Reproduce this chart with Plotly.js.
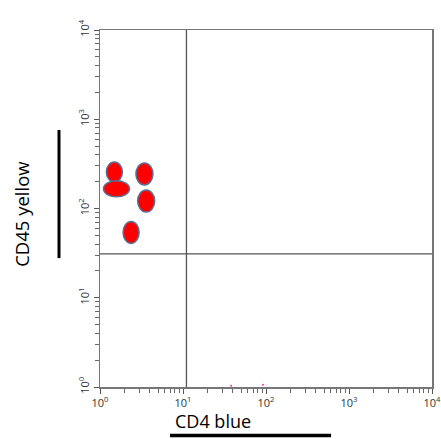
<!DOCTYPE html>
<html><head><meta charset="utf-8">
<script src="https://cdn.plot.ly/plotly-3.0.1.min.js"></script>
<style>html,body{margin:0;padding:0;background:#fff}</style>
</head><body><div id="chart" style="width:441px;height:439px"></div>
<script>
// Data
const cd4Values = [1.49, 1.58, 3.43, 3.6, 2.37];
const cd45Values = [256, 166, 244, 121, 54];
const strayX = [38, 92];
const strayY = [1.03, 1.06];
const gateX = 11;
const gateY = 31;
const tickDefault = ['1', '10', '100', '1000', '10k'];
const tickText = ['10<sup>0</sup>', '10<sup>1</sup>', '10<sup>2</sup>', '10<sup>3</sup>', '10<sup>4</sup>'];
const xTitle = 'CD4 blue';
const yTitle = 'CD45 yellow';

// Style (pixel sizes of each ellipse)
const dotW = [16, 26, 17, 17, 16];
const dotH = [20, 16, 22, 22, 22];

const W = 441, H = 439;
const M = {l:100, r:9, t:30, b:52};
const pxPerDecX = (W - M.l - M.r) / 4;
const pxPerDecY = (H - M.t - M.b) / 4;

const shapes = [];
cd4Values.forEach((x, i) => {
  const y = cd45Values[i];
  const fx = Math.pow(10, dotW[i] / 2 / pxPerDecX);
  const fy = Math.pow(10, dotH[i] / 2 / pxPerDecY);
  shapes.push({type:'circle', xref:'x', yref:'y',
    x0:x / fx, x1:x * fx, y0:y / fy, y1:y * fy,
    fillcolor:'#ff0000', line:{color:'#5a6f96', width:1.5}, layer:'above'});
});
// gate lines
shapes.push({type:'line', xref:'x', yref:'paper', x0:gateX, x1:gateX, y0:0, y1:1, line:{color:'#555', width:1.3}});
shapes.push({type:'line', xref:'paper', yref:'y', x0:0, x1:1, y0:gateY, y1:gateY, line:{color:'#555', width:1.3}});
// decorative black bars
shapes.push({type:'line', xref:'paper', yref:'paper', x0:-0.1235, x1:-0.1235, y0:0.361, y1:0.72, line:{color:'#000', width:3}});
shapes.push({type:'line', xref:'paper', yref:'paper', x0:0.211, x1:0.696, y0:-0.136, y1:-0.136, line:{color:'#000', width:3.5}});

const data = [
  {type:'scatter', mode:'markers', x:strayX, y:strayY,
   marker:{color:'#ff3399', size:2}, hoverinfo:'skip', cliponaxis:false}
];

const alias = {};
tickDefault.forEach((k, i) => { alias[k] = tickText[i]; });
alias['10,000'] = tickText[4];
alias['10000'] = tickText[4];

const axisCommon = {
  type:'log', range:[0,4], showgrid:false, zeroline:false,
  showline:true, linecolor:'#777', linewidth:1.5, mirror:true,
  tickmode:'linear', tick0:0, dtick:1,
  ticks:'outside', ticklen:5, tickcolor:'#555', tickwidth:1,
  labelalias:alias, ticklabeloverflow:'allow',
  tickfont:{family:'Open Sans, sans-serif', size:11, color:'#333'},
  minor:{ticks:'outside', ticklen:4, tickcolor:'#666', tickwidth:1, dtick:'D1', showgrid:false},
  fixedrange:true
};

const layout = {
  width:W, height:H,
  margin:M,
  paper_bgcolor:'#fff', plot_bgcolor:'#fff',
  showlegend:false,
  xaxis:Object.assign({}, axisCommon),
  yaxis:Object.assign({}, axisCommon, {tickangle:-90}),
  shapes:shapes,
  annotations:[
    {text:xTitle, xref:'paper', yref:'paper', x:0.340, y:-0.096, showarrow:false,
     xanchor:'center', yanchor:'middle', font:{family:'Open Sans, sans-serif', size:18, color:'#000'}},
    {text:yTitle, xref:'paper', yref:'paper', x:-0.235, y:0.485, showarrow:false, textangle:-90,
     xanchor:'center', yanchor:'middle', font:{family:'Open Sans, sans-serif', size:18.5, color:'#000'}}
  ]
};

Plotly.newPlot('chart', data, layout, {displayModeBar:false, staticPlot:true});
</script></body></html>
